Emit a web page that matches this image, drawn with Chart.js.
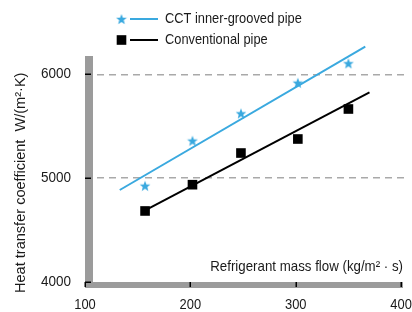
<!DOCTYPE html>
<html><head><meta charset="utf-8">
<script src="https://cdn.jsdelivr.net/npm/chart.js@4.4.1/dist/chart.umd.min.js"></script>
<style>html,body{margin:0;padding:0;background:#fff;}#wrap{width:412px;height:312px;}</style>
</head><body><div id="wrap"><canvas id="c" width="412" height="312"></canvas></div>
<script>
// ---- data ----
const seriesNames = ['CCT inner-grooved pipe', 'Conventional pipe'];
const massFlow = [157, 202, 248, 302, 350];
const cctValues = [4927, 5361, 5624, 5919, 6106];
const convValues = [4684, 4937, 5242, 5377, 5666];
const cctFitX = [133, 366];
const cctFitY = [4886, 6266];
const convFitX = [157, 370];
const convFitY = [4690, 5827];
const xTicks = [100, 200, 300, 400];
const yTicks = [4000, 5000, 6000];
const xTitle = 'Refrigerant mass flow (kg/m\u00B2 \u00B7 s)';
const yTitle = 'Heat transfer coefficient  W/(m\u00B2\u00B7K)';

// ---- style ----
const FONT = "'Liberation Sans',Arial,Helvetica,sans-serif";
const BLUE = '#3aa9df';
const BLACK = '#000000';
const TEXT = '#1a1a1a';
const BAR = '#9b9b9b';

const starImg = (() => {
  const s = 12, c = document.createElement('canvas');
  c.width = s; c.height = s;
  const g = c.getContext('2d');
  g.fillStyle = BLUE; g.beginPath();
  const cx = s / 2, cy = s / 2 + 0.6, R = 5.6, r = 2.4;
  for (let i = 0; i < 10; i++) {
    const a = -Math.PI / 2 + i * Math.PI / 5, rr = i % 2 ? r : R;
    g.lineTo(cx + rr * Math.cos(a), cy + rr * Math.sin(a));
  }
  g.closePath(); g.fill();
  return c;
})();

const pts = (xs, ys) => xs.map((x, i) => ({ x, y: ys[i] }));

function txt(ctx, s, x, y, align, sx, rot) {
  ctx.save();
  ctx.translate(x, y);
  if (rot) ctx.rotate(rot);
  ctx.scale(sx, 1);
  ctx.textAlign = align;
  ctx.textBaseline = 'middle';
  ctx.fillText(s, 0, 0);
  ctx.restore();
}

const decor = {
  id: 'decor',
  beforeDatasetsDraw(chart) {
    const { ctx, chartArea: a, scales: { x, y } } = chart;
    ctx.save();
    ctx.fillStyle = BAR;
    ctx.fillRect(a.left, 56, 8, a.bottom + 6 - 56);
    ctx.fillRect(a.left, a.bottom, a.right - 2 - a.left, 6);
    ctx.strokeStyle = '#000'; ctx.lineWidth = 1.5;
    ctx.beginPath();
    x.ticks.forEach(t => { const px = Math.round(x.getPixelForValue(t.value)) + 0.25; ctx.moveTo(px, a.bottom); ctx.lineTo(px, a.bottom + 5); });
    y.ticks.forEach(t => { const py = Math.round(y.getPixelForValue(t.value)) + 0.25; ctx.moveTo(a.left, py); ctx.lineTo(a.left + 6, py); });
    ctx.stroke();
    ctx.restore();
  },
  afterDraw(chart) {
    const { ctx, chartArea: a, scales: { x, y } } = chart;
    const ds = chart.data.datasets;
    ctx.save();
    ctx.fillStyle = TEXT;
    ctx.font = '15px ' + FONT;
    // tick labels (values from the scales)
    x.ticks.forEach(t => txt(ctx, String(t.value), x.getPixelForValue(t.value), 305, 'center', 0.86));
    y.ticks.forEach(t => txt(ctx, String(t.value), 71, Math.min(y.getPixelForValue(t.value), a.bottom - 0), 'right', 0.9));
    // axis titles
    txt(ctx, xTitle, a.right - 2, 267, 'right', 0.886);
    txt(ctx, yTitle, 21, 293, 'left', 0.97, -Math.PI / 2);
    // legend
    const rows = [{ m: ds[0], l: ds[2], y: 19 }, { m: ds[1], l: ds[3], y: 40 }];
    rows.forEach(r => {
      if (r.m.pointStyle === 'rect') {
        ctx.fillStyle = r.m.backgroundColor;
        const s = r.m.pointRadius * Math.SQRT1_2;
        ctx.fillRect(121.5 - s, r.y - s, 2 * s, 2 * s);
      } else {
        Chart.helpers.drawPoint(ctx, { pointStyle: r.m.pointStyle, radius: r.m.pointRadius, rotation: 0, borderWidth: 0 }, 121.5, r.y);
      }
      ctx.strokeStyle = r.l.borderColor; ctx.lineWidth = r.l.borderWidth;
      ctx.beginPath(); ctx.moveTo(130, r.y); ctx.lineTo(158, r.y); ctx.stroke();
      ctx.fillStyle = TEXT;
      txt(ctx, r.m.label, 165, r.y, 'left', 0.855);
    });
    ctx.restore();
  }
};

new Chart(document.getElementById('c'), {
  type: 'scatter',
  data: {
    datasets: [
      { label: seriesNames[0], data: pts(massFlow, cctValues), pointStyle: starImg, pointRadius: 6, order: 0 },
      { label: seriesNames[1], data: pts(massFlow, convValues), pointStyle: 'rect', pointRadius: 6.8, backgroundColor: BLACK, borderWidth: 0, order: 0 },
      { label: seriesNames[0] + ' fit', data: pts(cctFitX, cctFitY), showLine: true, borderColor: BLUE, borderWidth: 2, pointRadius: 0, order: 1 },
      { label: seriesNames[1] + ' fit', data: pts(convFitX, convFitY), showLine: true, borderColor: BLACK, borderWidth: 2, pointRadius: 0, order: 1 }
    ]
  },
  options: {
    responsive: false, animation: false, devicePixelRatio: 1,
    layout: { padding: { left: 0, right: 2, top: 12, bottom: 0 } },
    plugins: { legend: { display: false }, tooltip: { enabled: false } },
    scales: {
      x: {
        type: 'linear', min: 100, max: 403.7,
        afterBuildTicks: s => { s.ticks = xTicks.map(v => ({ value: v })); },
        afterFit: s => { s.height = 30; s.paddingLeft = 0; s.paddingRight = 0; },
        grid: { display: false, drawTicks: false },
        border: { display: false },
        ticks: { display: false }
      },
      y: {
        type: 'linear', min: 4000, max: 6600,
        afterBuildTicks: s => { s.ticks = yTicks.map(v => ({ value: v })); },
        afterFit: s => { s.width = 85; s.paddingTop = 0; s.paddingBottom = 0; },
        grid: { drawTicks: false, lineWidth: 1.4, color: c => (c.tick && c.tick.value === yTicks[0]) ? 'rgba(0,0,0,0)' : '#a9a9a9' },
        border: { display: false, dash: [7, 5] },
        ticks: { display: false }
      }
    }
  },
  plugins: [decor]
});
</script>
</body></html>
